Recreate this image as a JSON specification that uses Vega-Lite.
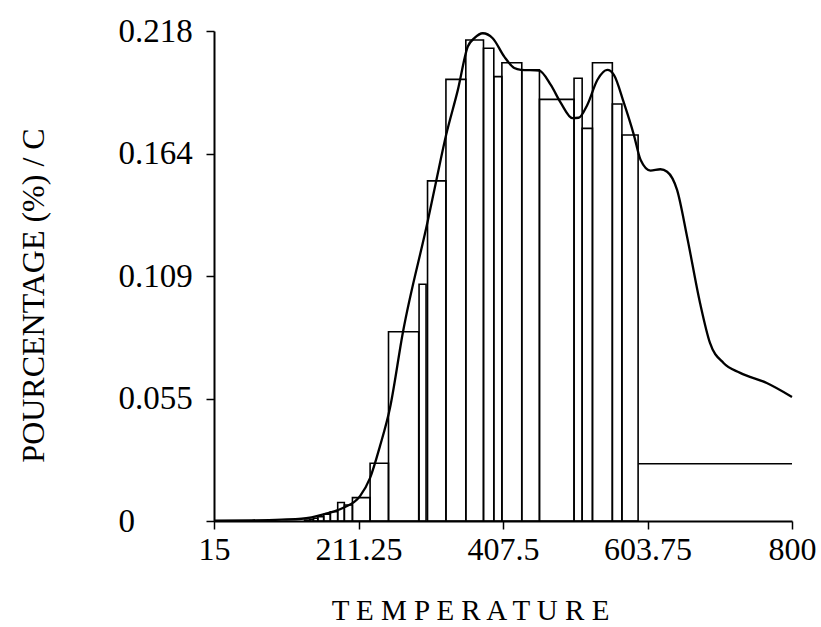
{
  "$schema": "https://vega.github.io/schema/vega-lite/v6.json",
  "width": 578,
  "height": 490,
  "autosize": "none",
  "padding": {"left": 214, "top": 31, "right": 29, "bottom": 106},
  "background": "white",
  "config": {"view": {"stroke": null}},
  "datasets": {
    "bars": [
      {"t": 138, "t2": 145, "v": 0.0004},
      {"t": 145, "t2": 150, "v": 0.0008},
      {"t": 150, "t2": 156, "v": 0.0012},
      {"t": 156, "t2": 164, "v": 0.0019},
      {"t": 164, "t2": 173, "v": 0.003},
      {"t": 173, "t2": 183, "v": 0.0041},
      {"t": 183, "t2": 192, "v": 0.0082},
      {"t": 192, "t2": 203, "v": 0.0071},
      {"t": 203, "t2": 227, "v": 0.0104},
      {"t": 227, "t2": 252, "v": 0.0257},
      {"t": 252, "t2": 293, "v": 0.0842},
      {"t": 293.5, "t2": 303, "v": 0.1053},
      {"t": 305, "t2": 330, "v": 0.1513},
      {"t": 330, "t2": 357, "v": 0.1965},
      {"t": 357, "t2": 381, "v": 0.214},
      {"t": 381, "t2": 395, "v": 0.2103},
      {"t": 395, "t2": 406, "v": 0.1977},
      {"t": 406, "t2": 433, "v": 0.2039},
      {"t": 433, "t2": 457, "v": 0.2007},
      {"t": 457, "t2": 504, "v": 0.1876},
      {"t": 504, "t2": 515, "v": 0.197},
      {"t": 515, "t2": 529, "v": 0.1747},
      {"t": 529, "t2": 556, "v": 0.2039},
      {"t": 556, "t2": 569, "v": 0.1855},
      {"t": 569, "t2": 591, "v": 0.1717}
    ],
    "tail": [
      {"t": 591, "t2": 800, "v": 0.0255}
    ],
    "curve": [
      {"t": 15, "v": 0.0002},
      {"t": 66, "v": 0.0003},
      {"t": 107, "v": 0.0006},
      {"t": 134, "v": 0.001},
      {"t": 165, "v": 0.0031},
      {"t": 190, "v": 0.0058},
      {"t": 213.3, "v": 0.0111},
      {"t": 226.9, "v": 0.0191},
      {"t": 240.5, "v": 0.0334},
      {"t": 254, "v": 0.0503},
      {"t": 271.7, "v": 0.0842},
      {"t": 305.6, "v": 0.1339},
      {"t": 316.8, "v": 0.1513},
      {"t": 330.3, "v": 0.1718},
      {"t": 346.2, "v": 0.1918},
      {"t": 359.7, "v": 0.2111},
      {"t": 368.6, "v": 0.2148},
      {"t": 380, "v": 0.217},
      {"t": 393.5, "v": 0.2148},
      {"t": 409.2, "v": 0.2066},
      {"t": 422.8, "v": 0.2015},
      {"t": 431.8, "v": 0.2007},
      {"t": 456.6, "v": 0.2004},
      {"t": 472.4, "v": 0.194},
      {"t": 486, "v": 0.186},
      {"t": 501.8, "v": 0.1792},
      {"t": 510.3, "v": 0.1794},
      {"t": 522.1, "v": 0.1852},
      {"t": 535.6, "v": 0.1962},
      {"t": 549.2, "v": 0.2007},
      {"t": 558.1, "v": 0.1985},
      {"t": 571.7, "v": 0.186},
      {"t": 585.2, "v": 0.1718},
      {"t": 594.3, "v": 0.1607},
      {"t": 607.8, "v": 0.1559},
      {"t": 621.3, "v": 0.1565},
      {"t": 630.4, "v": 0.1554},
      {"t": 643.9, "v": 0.1473},
      {"t": 657.5, "v": 0.1265},
      {"t": 675.1, "v": 0.097},
      {"t": 688.6, "v": 0.0792},
      {"t": 707, "v": 0.0703},
      {"t": 729.6, "v": 0.0659},
      {"t": 765.7, "v": 0.0614},
      {"t": 800, "v": 0.0552}
    ]
  },
  "encoding": {
    "x": {
      "field": "t",
      "type": "quantitative",
      "scale": {"domain": [15, 800], "nice": false, "zero": false},
      "axis": {
        "title": "T E M P E R A T U R E",
        "values": [15, 211.25, 407.5, 603.75, 800],
        "labelExpr": "'' + datum.value",
        "grid": false,
        "domainColor": "black",
        "domainWidth": 2,
        "tickColor": "black",
        "tickWidth": 1.5,
        "tickSize": 8,
        "labelFont": "Liberation Serif",
        "labelFontSize": 32,
        "labelColor": "black",
        "labelPadding": 5,
        "labelFlush": false,
        "labelOverlap": false,
        "titleFont": "Liberation Serif",
        "titleFontSize": 29,
        "titleFontWeight": "normal",
        "titleColor": "black",
        "titleX": 256,
        "titleAlign": "center",
        "titlePadding": 31
      }
    },
    "y": {
      "field": "v",
      "type": "quantitative",
      "scale": {"domain": [0, 0.218], "nice": false},
      "axis": {
        "title": "POURCENTAGE (%) / C",
        "values": [0, 0.0545, 0.109, 0.1635, 0.218],
        "labelExpr": "datum.value == 0 ? '0' : format(datum.value + 0.00001, '.3f')",
        "grid": false,
        "domainColor": "black",
        "domainWidth": 2,
        "tickColor": "black",
        "tickWidth": 1.5,
        "tickSize": 8,
        "labelFont": "Liberation Serif",
        "labelFontSize": 33,
        "labelColor": "black",
        "labelAlign": "left",
        "labelPadding": 88,
        "labelOverlap": false,
        "labelFlush": false,
        "titleFont": "Liberation Serif",
        "titleFontSize": 32,
        "titleFontWeight": "normal",
        "titleColor": "black",
        "titleX": -181,
        "titleY": 264,
        "titleAlign": "center",
        "titleBaseline": "middle",
        "titleAngle": -90
      }
    }
  },
  "layer": [
    {
      "data": {"name": "bars"},
      "mark": {"type": "bar", "fill": "transparent", "stroke": "black", "strokeWidth": 1.6},
      "encoding": {"x2": {"field": "t2"}, "y2": {"datum": 0}}
    },
    {
      "data": {"name": "tail"},
      "mark": {"type": "rule", "stroke": "black", "strokeWidth": 1.6},
      "encoding": {"x2": {"field": "t2"}}
    },
    {
      "data": {"name": "curve"},
      "mark": {"type": "line", "stroke": "black", "strokeWidth": 2.3, "interpolate": "monotone"},
      "encoding": {}
    }
  ]
}
